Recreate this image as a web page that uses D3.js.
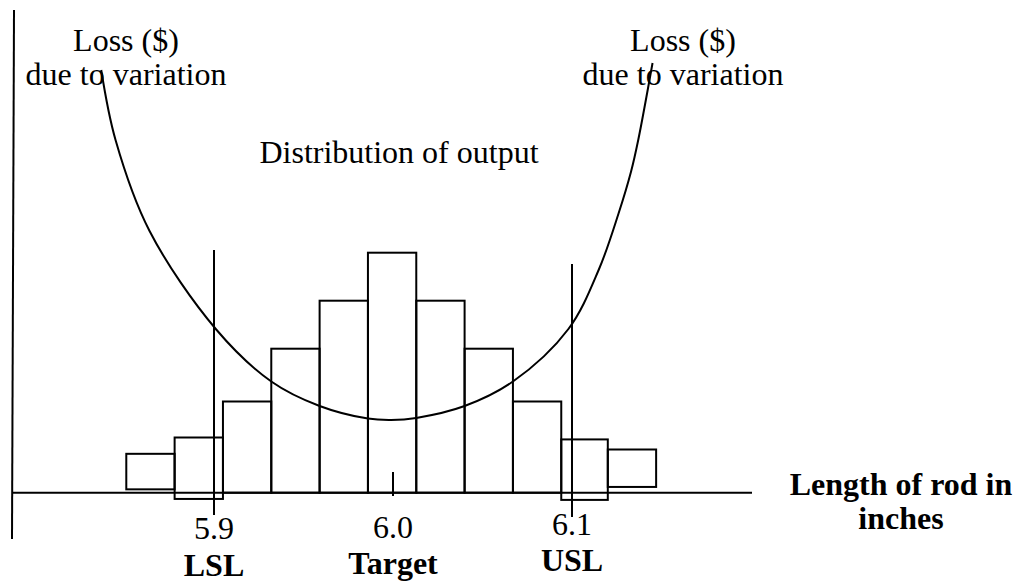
<!DOCTYPE html>
<html lang="en">
<head>
    <meta charset="UTF-8">
    <title>Loss due to variation</title>
    <script src="https://cdn.jsdelivr.net/npm/d3@7/dist/d3.min.js"></script>
    <style>
        body {
            margin: 0;
            background: #fff;
        }
        text {
            font-family: "Liberation Serif", "Times New Roman", serif;
            font-size: 32px;
            fill: #000;
        }
        .bold {
            font-weight: bold;
        }
    </style>
</head>
<body>
<div class="chart"></div>

<script type="text/javascript">
    // histogram bins (inches) and bar top / bottom in counts
    var binEdges = [5.851, 5.878, 5.905, 5.932, 5.959, 5.986, 6.013, 6.040, 6.067, 6.094, 6.120, 6.147];
    var barTop = [0.81, 1.15, 1.9, 3, 4, 5, 4, 3, 1.9, 1.11, 0.9];
    var barBase = [0.07, -0.13, 0, 0, 0, 0, 0, 0, 0, -0.15, 0.12];

    // loss curve
    var lossX = [5.837, 5.845, 5.864, 5.901, 5.932, 5.959, 5.986, 5.999, 6.013, 6.040, 6.067, 6.098, 6.115, 6.126, 6.133, 6.137, 6.145];
    var lossY = [10.0, 8.0, 5.4, 2.6, 1.1, 0.4, 0.04, 0, 0.06, 0.4, 1.1, 2.6, 4.3, 5.9, 7.1, 8.0, 10.2];

    var tickValues = [5.9, 6.0, 6.1];
    var tickLabels = ['5.9', '6.0', '6.1'];
    var limitNames = ['LSL', 'Target', 'USL'];

    var w = 1021;
    var h = 582;

    var svg = d3.select('.chart').append('svg')
            .attr('width', w)
            .attr('height', h);

    var x = d3.scaleLinear().domain([5.9, 6.1]).range([214, 572]);
    var y = d3.scaleLinear().domain([0, 5]).range([492.7, 252.7]);
    var yLoss = d3.scaleLinear().domain([0, 10]).range([420, 70]);

    // frame: left line and the length axis
    svg.append('line')
            .attr('x1', 14).attr('y1', 10)
            .attr('x2', 12).attr('y2', 539)
            .attr('stroke', '#000').attr('stroke-width', 2);
    svg.append('line')
            .attr('x1', 12).attr('y1', y(0))
            .attr('x2', 752).attr('y2', y(0))
            .attr('stroke', '#000').attr('stroke-width', 2);

    // bars
    svg.selectAll('rect.bar')
            .data(barTop)
            .enter()
            .append('rect')
            .attr('class', 'bar')
            .attr('x', function(d, i) { return x(binEdges[i]); })
            .attr('width', function(d, i) { return x(binEdges[i + 1]) - x(binEdges[i]); })
            .attr('y', function(d) { return y(d); })
            .attr('height', function(d, i) { return y(barBase[i]) - y(d); })
            .attr('fill', 'none')
            .attr('stroke', '#000')
            .attr('stroke-width', 2);

    // spec limit lines
    svg.append('line')
            .attr('x1', x(5.9)).attr('x2', x(5.9))
            .attr('y1', 250).attr('y2', 515)
            .attr('stroke', '#000').attr('stroke-width', 2);
    svg.append('line')
            .attr('x1', x(6.1)).attr('x2', x(6.1))
            .attr('y1', 264).attr('y2', 517)
            .attr('stroke', '#000').attr('stroke-width', 2);
    // target tick
    svg.append('line')
            .attr('x1', x(6.0)).attr('x2', x(6.0))
            .attr('y1', 472).attr('y2', 496)
            .attr('stroke', '#000').attr('stroke-width', 2);

    // loss curve
    var lossLine = d3.line()
            .x(function(d) { return x(d); })
            .y(function(d, i) { return yLoss(lossY[i]); })
            .curve(d3.curveCatmullRom.alpha(0.5));

    svg.append('path')
            .attr('d', lossLine(lossX))
            .attr('fill', 'none')
            .attr('stroke', '#000')
            .attr('stroke-width', 2);

    // tick values and limit names
    svg.selectAll('text.tick')
            .data(tickValues)
            .enter()
            .append('text')
            .attr('class', 'tick')
            .attr('x', function(d) { return x(d); })
            .attr('y', function(d, i) { return [539, 538, 535][i]; })
            .attr('text-anchor', 'middle')
            .text(function(d, i) { return tickLabels[i]; });

    svg.selectAll('text.limit')
            .data(tickValues)
            .enter()
            .append('text')
            .attr('class', 'limit bold')
            .attr('x', function(d) { return x(d); })
            .attr('y', function(d, i) { return [576, 574, 571][i]; })
            .attr('text-anchor', 'middle')
            .text(function(d, i) { return limitNames[i]; });

    // annotations
    function label(cx, lines, y0, cls) {
        var t = svg.append('text')
                .attr('x', cx)
                .attr('y', y0)
                .attr('text-anchor', 'middle');
        if (cls) t.attr('class', cls);
        lines.forEach(function(s, i) {
            t.append('tspan').attr('x', cx).attr('dy', i ? 34 : 0).text(s);
        });
    }
    label(126, ['Loss ($)', 'due to variation'], 51);
    label(683, ['Loss ($)', 'due to variation'], 51);
    label(399, ['Distribution of output'], 163);
    label(901, ['Length of rod in', 'inches'], 495, 'bold');
</script>
</body>
</html>
